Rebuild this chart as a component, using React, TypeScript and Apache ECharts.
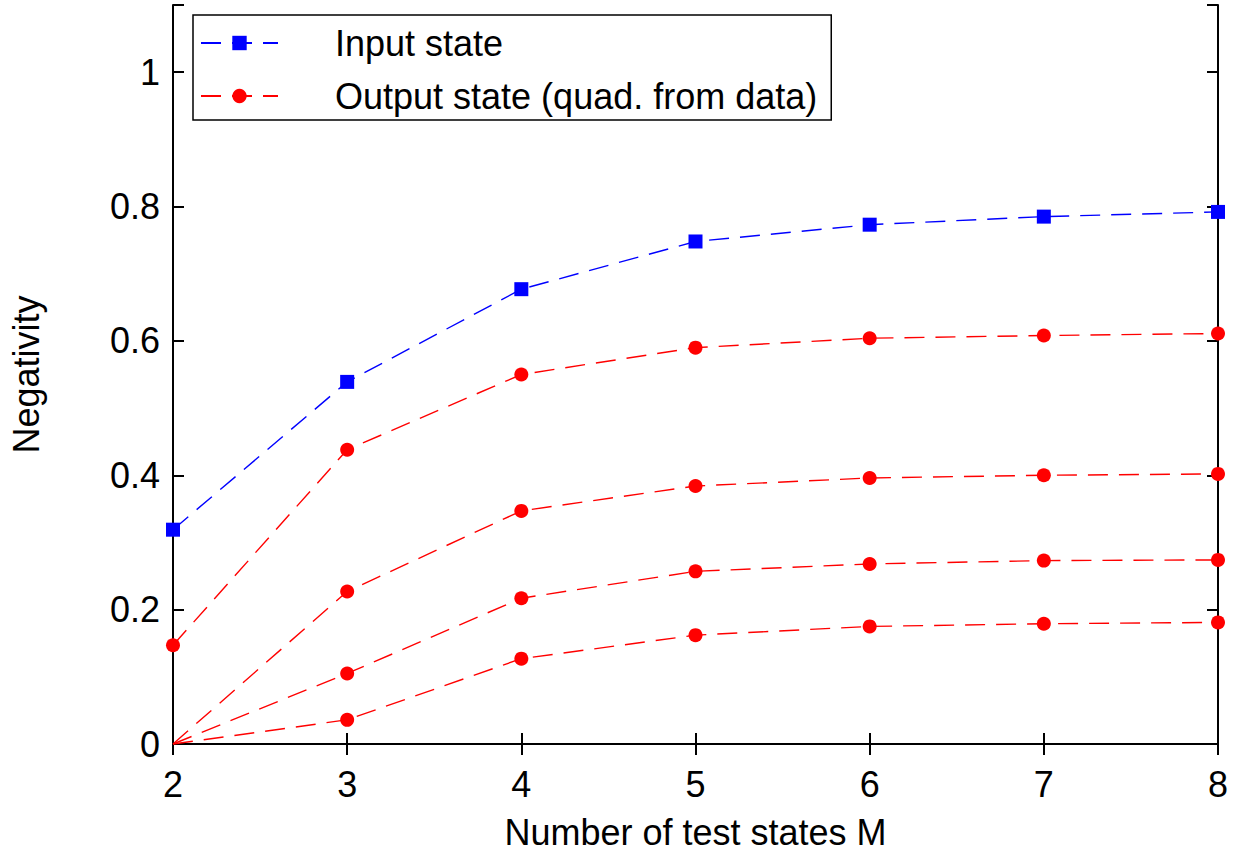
import React, { useEffect, useRef } from "react";
import * as echarts from "echarts";

const mValues = [2, 3, 4, 5, 6, 7, 8];
const inputState = [0.319, 0.539, 0.677, 0.748, 0.773, 0.785, 0.792];
const output1 = [0.147, 0.438, 0.55, 0.59, 0.604, 0.608, 0.611];
const output2 = [0, 0.227, 0.347, 0.384, 0.396, 0.4, 0.402];
const output3 = [0, 0.105, 0.217, 0.257, 0.268, 0.273, 0.274];
const output4 = [0, 0.036, 0.127, 0.162, 0.175, 0.179, 0.181];

const INPUT_NAME = "Input state";
const OUTPUT_NAME = "Output state (quad. from data)";
const FONT = "Liberation Sans, Arial, sans-serif";
const FS = 36;

function toData(vals: number[]) {
  return vals.map((v, i) =>
    v === 0 ? { value: [mValues[i], v], symbol: "none" } : { value: [mValues[i], v] }
  );
}

export default function App() {
  const ref = useRef<HTMLDivElement>(null);
  useEffect(() => {
    if (!ref.current) return;
    const chart = echarts.init(ref.current, undefined, { renderer: "svg" });
    const lineBase = (name: string, color: string, symbol: string, vals: number[]) => ({
      type: "line",
      name,
      data: toData(vals),
      symbol,
      symbolSize: 14,
      showAllSymbol: true,
      clip: false,
      itemStyle: { color },
      lineStyle: { color, width: 1.4, type: [20, 11] },
      emphasis: { disabled: true },
    });
    const axisCommon = {
      axisLine: { show: true, lineStyle: { color: "#000", width: 2 } },
      axisTick: { show: true, inside: true, length: 11, lineStyle: { color: "#000", width: 2 } },
      splitLine: { show: false },
    };
    chart.setOption({
      animation: false,
      backgroundColor: "#fff",
      grid: { left: 173, right: 27, top: 5, bottom: 109, containLabel: false },
      legend: {
        orient: "vertical",
        left: 193,
        top: 15,
        padding: [8, 14, 4, 7],
        itemGap: 13,
        itemWidth: 77,
        itemHeight: 18,
        borderColor: "#000",
        borderWidth: 1.5,
        backgroundColor: "#fff",
        data: [INPUT_NAME, OUTPUT_NAME],
        textStyle: {
          fontFamily: FONT,
          fontSize: FS,
          color: "#000",
          lineHeight: 40,
          padding: [0, 0, 0, 52],
        },
      },
      xAxis: [
        {
          type: "value",
          min: 2,
          max: 8,
          interval: 1,
          position: "bottom",
          name: "Number of test states M",
          nameLocation: "middle",
          nameGap: 70,
          nameTextStyle: { fontFamily: FONT, fontSize: FS, color: "#000" },
          axisLabel: { fontFamily: FONT, fontSize: FS, color: "#000", margin: 22 },
          ...axisCommon,
        },
        {
          type: "value",
          min: 2,
          max: 8,
          interval: 1,
          position: "top",
          axisLabel: { show: false },
          ...axisCommon,
        },
      ],
      yAxis: [
        {
          type: "value",
          min: 0,
          max: 1.1,
          interval: 0.2,
          position: "left",
          name: "Negativity",
          nameLocation: "middle",
          nameGap: 129,
          nameRotate: 90,
          nameTextStyle: { fontFamily: FONT, fontSize: FS, color: "#000" },
          axisLabel: {
            fontFamily: FONT,
            fontSize: FS,
            color: "#000",
            margin: 13,
            formatter: (v: number) => (v > 1.05 ? "" : String(Math.round(v * 10) / 10)),
          },
          ...axisCommon,
        },
        {
          type: "value",
          min: 0,
          max: 1.1,
          interval: 0.2,
          position: "right",
          axisLabel: { show: false },
          ...axisCommon,
        },
      ],
      series: [
        lineBase(INPUT_NAME, "#0000ff", "rect", inputState),
        lineBase(OUTPUT_NAME, "#ff0000", "circle", output1),
        lineBase(OUTPUT_NAME, "#ff0000", "circle", output2),
        lineBase(OUTPUT_NAME, "#ff0000", "circle", output3),
        lineBase(OUTPUT_NAME, "#ff0000", "circle", output4),
      ],
    });
    return () => chart.dispose();
  }, []);
  return (
    <div
      ref={ref}
      style={{ position: "absolute", left: 0, top: 0, width: 1245, height: 855 }}
    />
  );
}
